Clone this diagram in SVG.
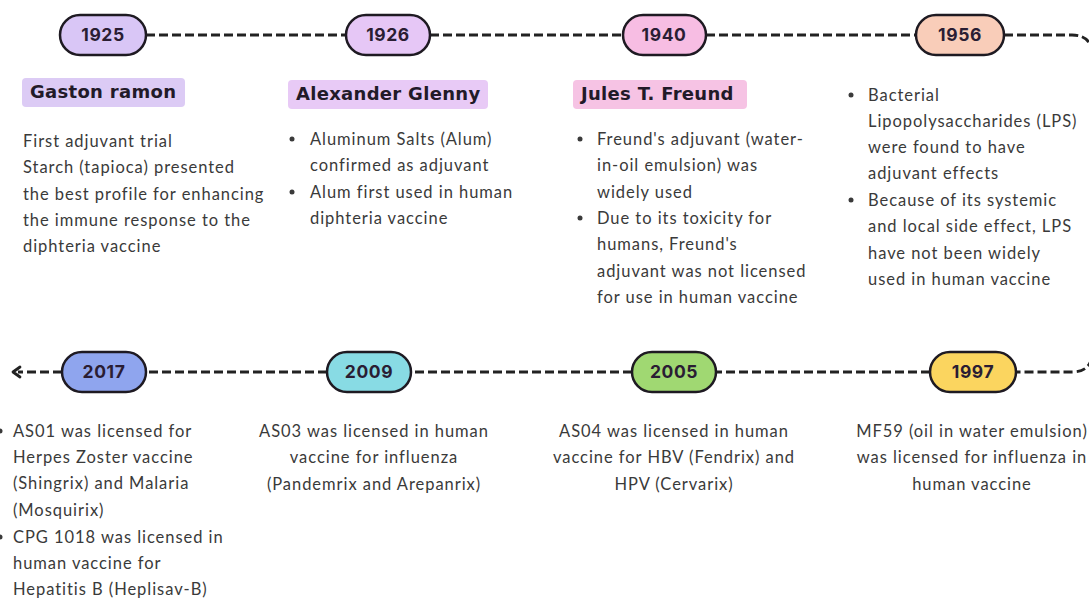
<svg xmlns="http://www.w3.org/2000/svg" width="1089" height="598" viewBox="0 0 1089 598">
<style>
.pill{stroke:#1e1a22;stroke-width:2.5}
.yr{font-family:Inter,"Open Sans",sans-serif;font-weight:700;font-size:17.5px;letter-spacing:0.6px;fill:#2a1d33;text-anchor:middle}
.nm{font-family:"DejaVu Sans",Inter,sans-serif;font-weight:700;font-size:18px;letter-spacing:0.3px;fill:#221a28}
.tx{font-family:Lato,"Open Sans",sans-serif;font-size:16.5px;letter-spacing:0.95px;fill:#3a3a3a}
.c{text-anchor:middle}
.dash{fill:none;stroke:#222;stroke-width:2.8;stroke-dasharray:9 4}
.bul{fill:#3a3a3a}
</style>
<rect width="1089" height="598" fill="#ffffff"/>
<g id="connectors">
<line class="dash" x1="146" y1="35" x2="346" y2="35"/>
<line class="dash" x1="430" y1="35" x2="623" y2="35"/>
<line class="dash" x1="706" y1="35" x2="916" y2="35"/>
<path class="dash" d="M1004,35 H1072 Q1092,35 1092,55 V352 Q1092,372 1072,372 H1016"/>
<line class="dash" x1="930" y1="372" x2="716" y2="372"/>
<line class="dash" x1="632" y1="372" x2="411" y2="372"/>
<line class="dash" x1="327" y1="372" x2="146" y2="372"/>
<path class="dash" d="M62,372 H18"/>
<path d="M20,367 L13,372 L20,377" fill="none" stroke="#222" stroke-width="2.8" stroke-linecap="round" stroke-linejoin="round"/>
</g>
<g id="n1925">
<rect class="pill" x="60" y="15" width="86" height="40" rx="20" fill="#d9c6f6"/>
<text class="yr" x="103" y="41">1925</text>
<rect x="22" y="78" width="163" height="29" rx="4" fill="#dccbf5"/>
<text class="nm" x="30" y="98">Gaston ramon</text>
<text class="tx" x="23" y="147">First adjuvant trial</text>
<text class="tx" x="23" y="173">Starch (tapioca) presented</text>
<text class="tx" x="23" y="200">the best profile for enhancing</text>
<text class="tx" x="23" y="226">the immune response to the</text>
<text class="tx" x="23" y="252">diphteria vaccine</text>
</g>
<g id="n1926">
<rect class="pill" x="346" y="15" width="84" height="40" rx="20" fill="#e6c7f6"/>
<text class="yr" x="388" y="41">1926</text>
<rect x="288" y="80" width="200" height="29" rx="4" fill="#e8caf6"/>
<text class="nm" x="296" y="100">Alexander Glenny</text>
<circle class="bul" cx="292" cy="139" r="2.5"/>
<text class="tx" x="310" y="145">Aluminum Salts (Alum)</text>
<text class="tx" x="310" y="171">confirmed as adjuvant</text>
<circle class="bul" cx="292" cy="192" r="2.5"/>
<text class="tx" x="310" y="198">Alum first used in human</text>
<text class="tx" x="310" y="224">diphteria vaccine</text>
</g>
<g id="n1940">
<rect class="pill" x="623" y="15" width="83" height="40" rx="20" fill="#f7bde3"/>
<text class="yr" x="664" y="41">1940</text>
<rect x="573" y="80" width="174" height="29" rx="4" fill="#f6c3e4"/>
<text class="nm" x="581" y="100">Jules T. Freund</text>
<circle class="bul" cx="580" cy="139" r="2.5"/>
<text class="tx" x="597" y="145">Freund's adjuvant (water-</text>
<text class="tx" x="597" y="171">in-oil emulsion) was</text>
<text class="tx" x="597" y="198">widely used</text>
<circle class="bul" cx="580" cy="218" r="2.5"/>
<text class="tx" x="597" y="224">Due to its toxicity for</text>
<text class="tx" x="597" y="250">humans, Freund's</text>
<text class="tx" x="597" y="277">adjuvant was not licensed</text>
<text class="tx" x="597" y="303">for use in human vaccine</text>
</g>
<g id="n1956">
<rect class="pill" x="916" y="15" width="88" height="40" rx="20" fill="#f9cdb9"/>
<text class="yr" x="960" y="41">1956</text>
<circle class="bul" cx="851" cy="95" r="2.5"/>
<text class="tx" x="868" y="101">Bacterial</text>
<text class="tx" x="868" y="127">Lipopolysaccharides (LPS)</text>
<text class="tx" x="868" y="153">were found to have</text>
<text class="tx" x="868" y="179">adjuvant effects</text>
<circle class="bul" cx="851" cy="200" r="2.5"/>
<text class="tx" x="868" y="206">Because of its systemic</text>
<text class="tx" x="868" y="232">and local side effect, LPS</text>
<text class="tx" x="868" y="259">have not been widely</text>
<text class="tx" x="868" y="285">used in human vaccine</text>
</g>
<g id="n1997">
<rect class="pill" x="930" y="352" width="86" height="40" rx="20" fill="#fbd55f"/>
<text class="yr" x="973" y="378">1997</text>
<text class="tx c" x="972" y="437">MF59 (oil in water emulsion)</text>
<text class="tx c" x="972" y="463">was licensed for influenza in</text>
<text class="tx c" x="972" y="490">human vaccine</text>
</g>
<g id="n2005">
<rect class="pill" x="632" y="352" width="84" height="40" rx="20" fill="#a0d872"/>
<text class="yr" x="674" y="378">2005</text>
<text class="tx c" x="674" y="437">AS04 was licensed in human</text>
<text class="tx c" x="674" y="463">vaccine for HBV (Fendrix) and</text>
<text class="tx c" x="674" y="490">HPV (Cervarix)</text>
</g>
<g id="n2009">
<rect class="pill" x="327" y="352" width="84" height="40" rx="20" fill="#88dbe4"/>
<text class="yr" x="369" y="378">2009</text>
<text class="tx c" x="374" y="437">AS03 was licensed in human</text>
<text class="tx c" x="374" y="463">vaccine for influenza</text>
<text class="tx c" x="374" y="490">(Pandemrix and Arepanrix)</text>
</g>
<g id="n2017">
<rect class="pill" x="62" y="352" width="84" height="40" rx="20" fill="#8fa5ee"/>
<text class="yr" x="104" y="378">2017</text>
<circle class="bul" cx="0" cy="431" r="2.5"/>
<text class="tx" x="13" y="437">AS01 was licensed for</text>
<text class="tx" x="13" y="463">Herpes Zoster vaccine</text>
<text class="tx" x="13" y="489">(Shingrix) and Malaria</text>
<text class="tx" x="13" y="516">(Mosquirix)</text>
<circle class="bul" cx="0" cy="537" r="2.5"/>
<text class="tx" x="13" y="543">CPG 1018 was licensed in</text>
<text class="tx" x="13" y="569">human vaccine for</text>
<text class="tx" x="13" y="595">Hepatitis B (Heplisav-B)</text>
</g>
</svg>
